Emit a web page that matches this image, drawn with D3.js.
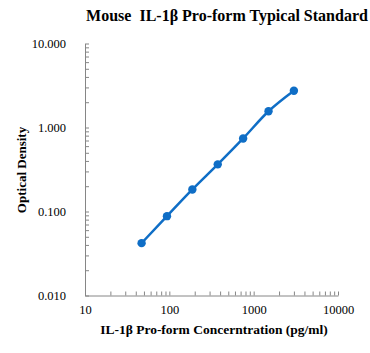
<!DOCTYPE html>
<html>
<head>
<meta charset="utf-8">
<script src="https://cdn.jsdelivr.net/npm/d3@7"></script>
<style>
  body { margin: 0; background: #fff; }
  svg { display: block; font-family: "Liberation Serif", "Times New Roman", serif; }
</style>
</head>
<body>
<div id="chart"></div>
<script>
// standard curve data
const concentrations = [46.875, 93.75, 187.5, 375, 750, 1500, 3000];
const odValues = [0.042, 0.088, 0.183, 0.364, 0.741, 1.56, 2.74];
const xTickLabels = [10, 100, 1000, 10000];
const yTickLabels = [0.01, 0.1, 1, 10];

const width = 370, height = 353;
const margin = {top: 43.5, right: 32, bottom: 57.5, left: 85};

const svg = d3.select('#chart').append('svg')
    .attr('width', width)
    .attr('height', height);

const x = d3.scaleLog().domain([10, 10000]).range([margin.left, width - margin.right]);
const y = d3.scaleLog().domain([0.01, 10]).range([height - margin.bottom, margin.top]);

// minor + major tick positions for log axes
function logTicks(lo, hi) {
    const out = [];
    for (let d = lo; d < hi; d *= 10) {
        for (let k = 1; k < 10; k++) out.push(+(d * k).toPrecision(6));
    }
    out.push(hi);
    return out;
}

const axisColor = '#868686';

// x axis: ticks point inward
const xAxis = svg.append('g')
    .attr('transform', `translate(0,${height - margin.bottom})`)
    .call(d3.axisBottom(x).tickValues(logTicks(10, 10000)).tickSize(-4).tickSizeOuter(0).tickFormat(''));
xAxis.select('.domain').attr('stroke', axisColor);
xAxis.selectAll('.tick line').attr('stroke', axisColor);

svg.append('g')
    .attr('transform', `translate(0,${height - margin.bottom + 7})`)
    .call(d3.axisBottom(x).tickValues(xTickLabels).tickSize(0).tickFormat(d3.format('d')))
    .call(g => g.select('.domain').remove())
    .selectAll('text')
    .attr('font-family', '"Liberation Serif", serif')
    .attr('font-size', 12.5)
    .attr('fill', '#000');

// y axis: ticks point inward
const yAxis = svg.append('g')
    .attr('transform', `translate(${margin.left},0)`)
    .call(d3.axisLeft(y).tickValues(logTicks(0.01, 10)).tickSize(-4).tickSizeOuter(0).tickFormat(''));
yAxis.select('.domain').attr('stroke', axisColor);
yAxis.selectAll('.tick line').attr('stroke', axisColor);

svg.append('g')
    .attr('transform', `translate(${margin.left - 16},0)`)
    .call(d3.axisLeft(y).tickValues(yTickLabels).tickSize(0).tickFormat(d3.format('.3f')))
    .call(g => g.select('.domain').remove())
    .selectAll('text')
    .attr('font-family', '"Liberation Serif", serif')
    .attr('font-size', 12.5)
    .attr('fill', '#000');

// curve + points
const points = concentrations.map((c, i) => [c, odValues[i]]);
const blue = '#0F6EC6';

svg.append('path')
    .datum(points)
    .attr('fill', 'none')
    .attr('stroke', blue)
    .attr('stroke-width', 2.5)
    .attr('d', d3.line().x(d => x(d[0])).y(d => y(d[1])).curve(d3.curveMonotoneX));

svg.append('g')
    .selectAll('circle')
    .data(points)
    .join('circle')
    .attr('cx', d => x(d[0]))
    .attr('cy', d => y(d[1]))
    .attr('r', 4.2)
    .attr('fill', blue);

// titles
svg.append('text')
    .attr('x', 227)
    .attr('y', 21)
    .attr('text-anchor', 'middle')
    .attr('font-weight', 'bold')
    .attr('font-size', 16)
    .style('white-space', 'pre')
    .text('Mouse  IL-1β Pro-form Typical Standard');

svg.append('text')
    .attr('transform', 'translate(26,170) rotate(-90)')
    .attr('text-anchor', 'middle')
    .attr('font-weight', 'bold')
    .attr('font-size', 13)
    .text('Optical Density');

svg.append('text')
    .attr('x', 214)
    .attr('y', 334)
    .attr('text-anchor', 'middle')
    .attr('font-weight', 'bold')
    .attr('font-size', 13.5)
    .text('IL-1β Pro-form Concerntration (pg/ml)');
</script>
</body>
</html>
